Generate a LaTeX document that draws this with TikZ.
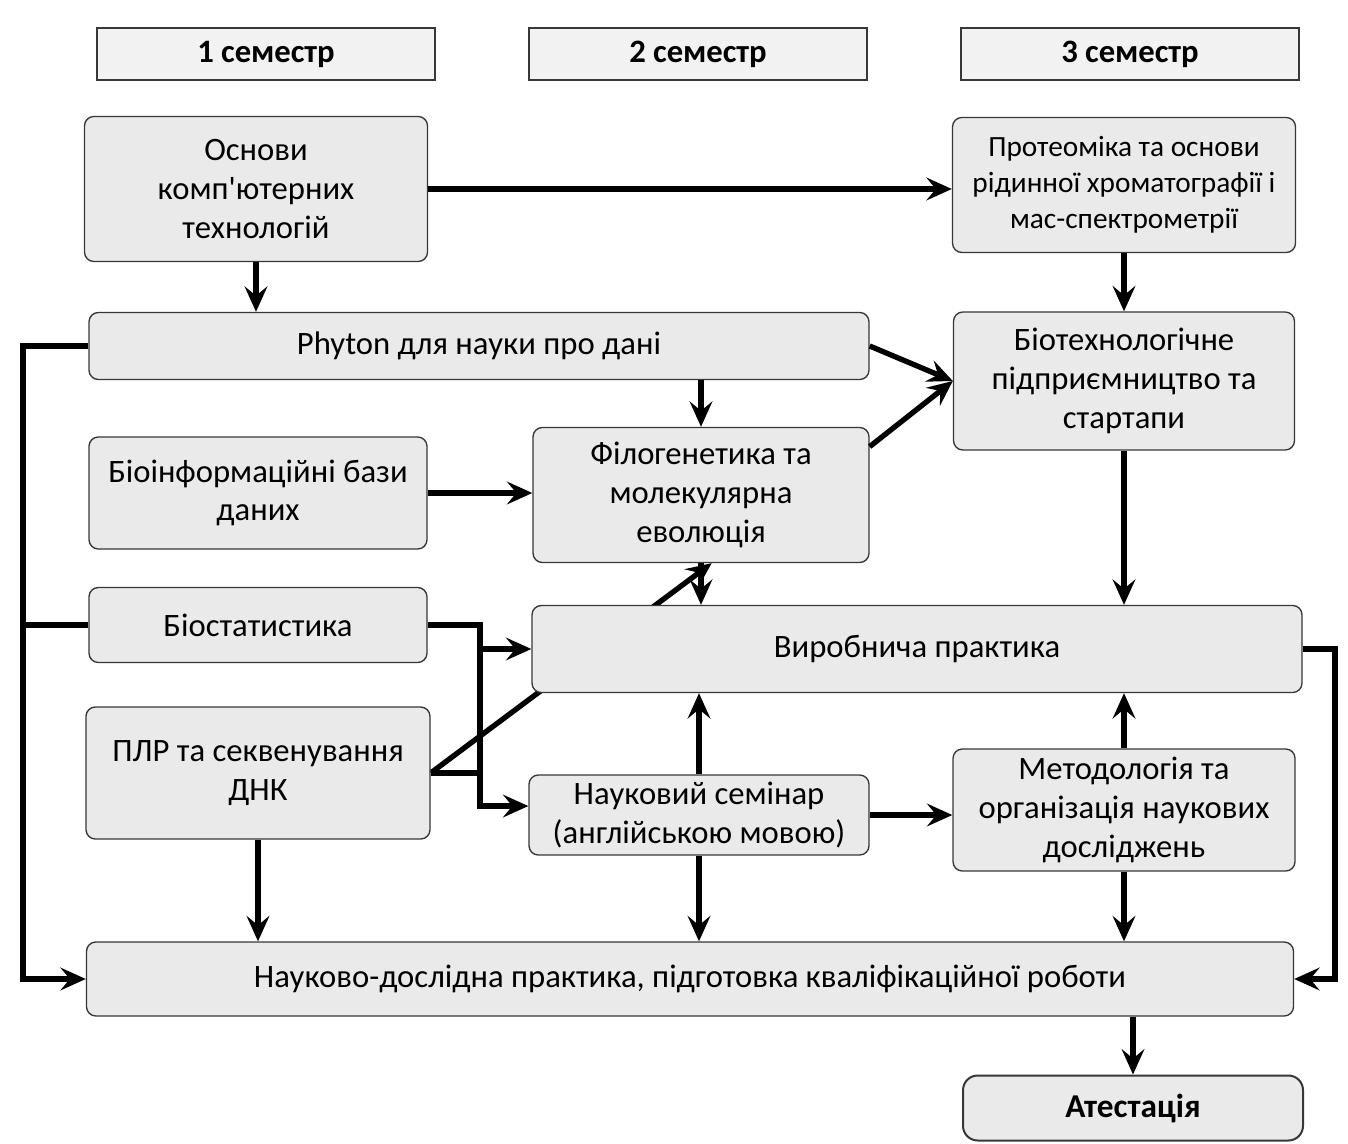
\documentclass[tikz,border=0pt]{standalone}
\usepackage{fontspec}
\setmainfont{Carlito}[Ligatures=TeXOff]
\usetikzlibrary{arrows.meta,backgrounds}

\tikzset{every picture/.style={line width=0.75pt}}
\definecolor{boxgray}{RGB}{234,234,234}
\definecolor{semgray}{RGB}{242,242,242}
\definecolor{framegray}{RGB}{55,55,55}
\tikzset{
  wh/.style 2 args={minimum width=#1*0.75pt, minimum height=#2*0.75pt},
  course/.style={draw=framegray, line width=1pt, fill=boxgray, rounded corners=7pt,
    align=center, inner sep=0pt, font=\fontsize{24.5}{29}\selectfont},
  semlabel/.style={course, rounded corners=0pt, fill=semgray, line width=1.3pt,
    font=\fontsize{24.5}{29}\selectfont\bfseries},
  finalbox/.style={course, rounded corners=11pt, line width=1.5pt,
    font=\fontsize{25}{29}\selectfont\bfseries},
  link/.style={line width=4pt, -{Stealth[length=19pt,width=17pt,inset=7pt]}},
  bus/.style={line width=4pt},
}

\begin{document}
\begin{tikzpicture}[x=0.75pt,y=0.75pt,yscale=-1,xscale=1]
  \useasboundingbox (0,0) rectangle (1348,1144);

  % semesters
  \node[semlabel, wh={338}{52}] (sem1) at (266,54) {1 семестр};
  \node[semlabel, wh={338}{52}] (sem2) at (698,54) {2 семестр};
  \node[semlabel, wh={338}{52}] (sem3) at (1130,54) {3 семестр};

  % courses
  \node[course, wh={343}{145}] (osnovy) at (256,189) {Основи\\комп'ютерних\\технологій};
  \node[course, wh={343}{135}, font=\fontsize{22}{27}\selectfont] (proteom) at (1124,185) {Протеоміка та основи\\рідинної хроматографії і\\мас-спектрометрії};
  \node[course, wh={780}{67}] (phyton) at (479,346) {Phyton для науки про дані};
  \node[course, wh={341}{138}] (biotech) at (1124,381) {Біотехнологічне\\підприємництво та\\стартапи};
  \node[course, wh={338}{112}] (bioinf) at (258,493) {Біоінформаційні бази\\даних};
  \node[course, wh={336}{135}] (phylo) at (701,495) {Філогенетика та\\молекулярна\\еволюція};
  \node[course, wh={338}{75}] (biostat) at (258,625) {Біостатистика};
  \node[course, wh={770}{87}] (vyrob) at (917,649) {Виробнича практика};
  \node[course, wh={344}{132}] (plr) at (258,773) {ПЛР та секвенування\\ДНК};
  \node[course, wh={340}{80}] (seminar) at (699,815) {Науковий семінар\\(англійською мовою)};
  \node[course, wh={342}{122}] (metod) at (1124,810) {Методологія та\\організація наукових\\досліджень};
  \node[course, wh={1207}{74}] (ndp) at (690,979) {Науково-дослідна практика, підготовка кваліфікаційної роботи};
  \node[finalbox, wh={340}{65}] (atest) at (1133,1108) {Атестація};

  \coordinate (leftbus) at (23,0);
  \coordinate (statbus) at (480,0);
  \coordinate (rightbus) at (1335,0);

  \draw[link] (osnovy.east) -- (osnovy.east -| proteom.west);
  \draw[link] (osnovy.south) -- (osnovy.south |- phyton.north);
  \draw[link] (proteom.south) -- (biotech.north);
  \draw[link] (phyton.east) -- (biotech.west);
  \draw[link] (phylo.16) -- (biotech.west);
  \draw[link] (phylo.north |- phyton.south) -- (phylo.north);
  \draw[link] (bioinf.east) -- (bioinf.east -| phylo.west);
  \draw[link] (biotech.south) -- (biotech.south |- vyrob.north);
  \draw[link] (phylo.south) -- (phylo.south |- vyrob.north);

  \draw[link] (biostat.east) -- (biostat.east -| statbus) |- (seminar.177);
  \draw[link] (vyrob.west -| statbus) -- (vyrob.west);
  \draw[bus] (plr.east) -- (plr.east -| statbus);
  \begin{pgfonlayer}{background}
    \draw[link] (plr.east) -- ([xshift=8pt]phylo.south);
  \end{pgfonlayer}

  \draw[link] (seminar.north) -- (seminar.north |- vyrob.south);
  \draw[link] (metod.north) -- (metod.north |- vyrob.south);
  \draw[link] (seminar.east) -- (seminar.east -| metod.west);
  \draw[link] (metod.south) -- (metod.south |- ndp.north);
  \draw[link] (seminar.south) -- (seminar.south |- ndp.north);
  \draw[link] (plr.south) -- (plr.south |- ndp.north);
  \draw[link] (atest.north |- ndp.south) -- (atest.north);

  \draw[link] (phyton.west) -- (phyton.west -| leftbus) |- (ndp.west);
  \draw[bus] (biostat.west) -- (biostat.west -| leftbus);
  \draw[link] (vyrob.east) -- (vyrob.east -| rightbus) |- (ndp.east);

\end{tikzpicture}
\end{document}
